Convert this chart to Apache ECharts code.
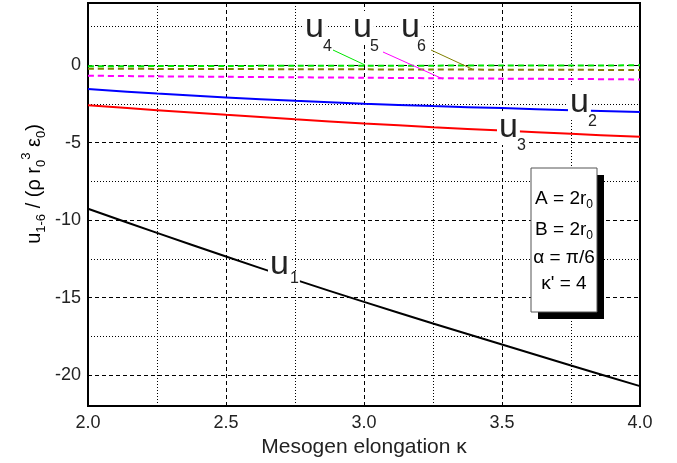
<!DOCTYPE html>
<html>
<head>
<meta charset="utf-8">
<script src="https://cdn.jsdelivr.net/npm/echarts@6/dist/echarts.min.js"></script>
<style>html,body{margin:0;padding:0;background:#fff}#c{width:677px;height:463px}</style>
</head>
<body>
<div id="c"></div>
<script>
// ---- data ----
const kappa = [2.0, 2.25, 2.5, 2.75, 3.0, 3.25, 3.5, 3.75, 4.0];
const u1 = [-9.27, -10.83, -12.35, -13.84, -15.28, -16.67, -18.03, -19.38, -20.71];
const u2 = [-1.55, -1.84, -2.09, -2.31, -2.50, -2.65, -2.78, -2.91, -3.03];
const u3 = [-2.60, -2.91, -3.21, -3.50, -3.77, -4.01, -4.23, -4.44, -4.63];
const u4 = [-0.08, -0.07, -0.06, -0.05, -0.04, -0.04, -0.03, -0.03, -0.02];
const u5 = [-0.69, -0.73, -0.76, -0.79, -0.82, -0.85, -0.88, -0.90, -0.93];
const u6 = [-0.24, -0.25, -0.26, -0.27, -0.28, -0.29, -0.30, -0.31, -0.32];
const xMajor = [2.0, 2.5, 3.0, 3.5, 4.0];
const xMinor = [2.25, 2.75, 3.25, 3.75];
const yMajor = [-20, -15, -10, -5, 0];
const yMinor = [-17.5, -12.5, -7.5, -2.5, 2.5];
const xRange = [2, 4];
const yRange = [-22, 4];

const FONT = '"Liberation Sans", Arial, Helvetica, sans-serif';
const pairs = arr => kappa.map((k, i) => [k, arr[i]]);

const chart = echarts.init(document.getElementById('c'), null, {renderer: 'canvas'});

const dashed = {color: '#000', width: 1, type: [4, 3]};
const dotted = {color: '#000', width: 1, type: [1, 2]};

function line(name, arr, color, dash, z) {
  return {
    name, type: 'line', data: pairs(arr), smooth: 0.3, showSymbol: false, symbol: 'none',
    xAxisIndex: 0, yAxisIndex: 0, z: z,
    lineStyle: {color, width: 2, type: dash ? [6, 4] : 'solid'},
    itemStyle: {color}, animation: false
  };
}

function uLabel(x, y, sub, sx, sy) {
  return [
    {type: 'text', x: x, y: y, z: 100,
     style: {text: 'u', font: '34px ' + FONT, fill: '#222', align: 'left', verticalAlign: 'middle',
             backgroundColor: '#fff', padding: [0, 2, 0, 2]}},
    {type: 'text', x: sx, y: sy, z: 101,
     style: {text: sub, font: '16px ' + FONT, fill: '#222', align: 'left', verticalAlign: 'middle',
             backgroundColor: '#fff', padding: [0, 1, 0, 1]}}
  ];
}
function leader(x1, y1, x2, y2, color) {
  return {type: 'line', z: 99, shape: {x1, y1, x2, y2}, style: {stroke: color, lineWidth: 1}};
}
const legRich = {
  n: {fontSize: 19, fontFamily: FONT, color: '#111', lineHeight: 24},
  s: {fontSize: 12, fontFamily: FONT, color: '#111', lineHeight: 12, verticalAlign: 'bottom'}
};
function legText(y, t) {
  return {type: 'text', x: 564, y: y, z: 112,
          style: {text: t, align: 'center', verticalAlign: 'middle', rich: legRich}};
}

const option = {
  animation: false,
  backgroundColor: '#fff',
  textStyle: {fontFamily: FONT},
  grid: {left: 88, right: 37, top: 3, bottom: 56, show: true, borderColor: '#000', borderWidth: 2,
         backgroundColor: 'transparent'},
  xAxis: [
    {type: 'value', min: xRange[0], max: xRange[1], position: 'bottom',
     axisLine: {show: true, onZero: false, lineStyle: {color: '#000', width: 2}},
     axisTick: {show: false, customValues: xMajor},
     axisLabel: {customValues: xMajor, formatter: v => v.toFixed(1), fontSize: 18, color: '#222',
                 margin: 8, fontFamily: FONT},
     splitLine: {show: true, lineStyle: dashed},
     name: 'Mesogen elongation κ', nameLocation: 'middle', nameGap: 25,
     nameTextStyle: {fontSize: 21, color: '#222', fontFamily: FONT}},
    {type: 'value', min: xRange[0], max: xRange[1], position: 'top',
     axisLine: {show: false}, axisTick: {show: false, customValues: xMinor},
     axisLabel: {show: false}, splitLine: {show: true, lineStyle: dotted}}
  ],
  yAxis: [
    {type: 'value', min: yRange[0], max: yRange[1], position: 'left',
     axisLine: {show: true, onZero: false, lineStyle: {color: '#000', width: 2}},
     axisTick: {show: false, customValues: yMajor},
     axisLabel: {customValues: yMajor, fontSize: 18, color: '#222', margin: 7, fontFamily: FONT},
     splitLine: {show: true, lineStyle: dashed}},
    {type: 'value', min: yRange[0], max: yRange[1], position: 'right',
     axisLine: {show: false}, axisTick: {show: false, customValues: yMinor},
     axisLabel: {show: false}, splitLine: {show: true, lineStyle: dotted}}
  ],
  series: [
    line('u1', u1, '#000000', false, 3),
    line('u3', u3, '#ff0000', false, 4),
    line('u2', u2, '#0000ff', false, 5),
    line('u5', u5, '#ff00ff', true, 6),
    line('u6', u6, '#808000', true, 7),
    line('u4', u4, '#00e600', true, 8)
  ],
  graphic: [
    // y-axis title
    {type: 'text', x: 34, y: 184, rotation: Math.PI / 2, z: 100,
     style: {text: '{n|u}{s|1-6}{n| / (ρ r}{s|0}{p|3}{n| ε}{s|0}{n|)}', align: 'center', verticalAlign: 'middle',
             rich: {
               n: {fontSize: 20, fontFamily: FONT, color: '#222', lineHeight: 28},
               s: {fontSize: 13, fontFamily: FONT, color: '#222', lineHeight: 13, verticalAlign: 'bottom'},
               p: {fontSize: 13, fontFamily: FONT, color: '#222', lineHeight: 13, verticalAlign: 'top'}
             }}},
    // leader lines
    leader(333, 50, 365, 65, '#00e600'),
    leader(383, 52, 443, 79, '#ff00ff'),
    leader(431, 50, 472, 69, '#808000'),
    // curve labels
    ...uLabel(303, 28, '4', 322, 47),
    ...uLabel(351, 28, '5', 369, 47),
    ...uLabel(399, 28, '6', 416, 47),
    ...uLabel(568, 103, '2', 587, 122),
    ...uLabel(497, 128, '3', 516, 146),
    ...uLabel(268, 265, '1', 289, 279),
    // parameter box
    {type: 'rect', z: 110, shape: {x: 538, y: 175, width: 66, height: 144}, style: {fill: '#000'}},
    {type: 'rect', z: 111, shape: {x: 531, y: 168, width: 66, height: 144},
     style: {fill: '#fff', stroke: '#555', lineWidth: 1}},
    legText(199, '{n|A = 2r}{s|0}'),
    legText(230, '{n|B = 2r}{s|0}'),
    legText(258, '{n|α = π/6}'),
    legText(284, "{n|κ' = 4}")
  ]
};
chart.setOption(option);
</script>
</body>
</html>
